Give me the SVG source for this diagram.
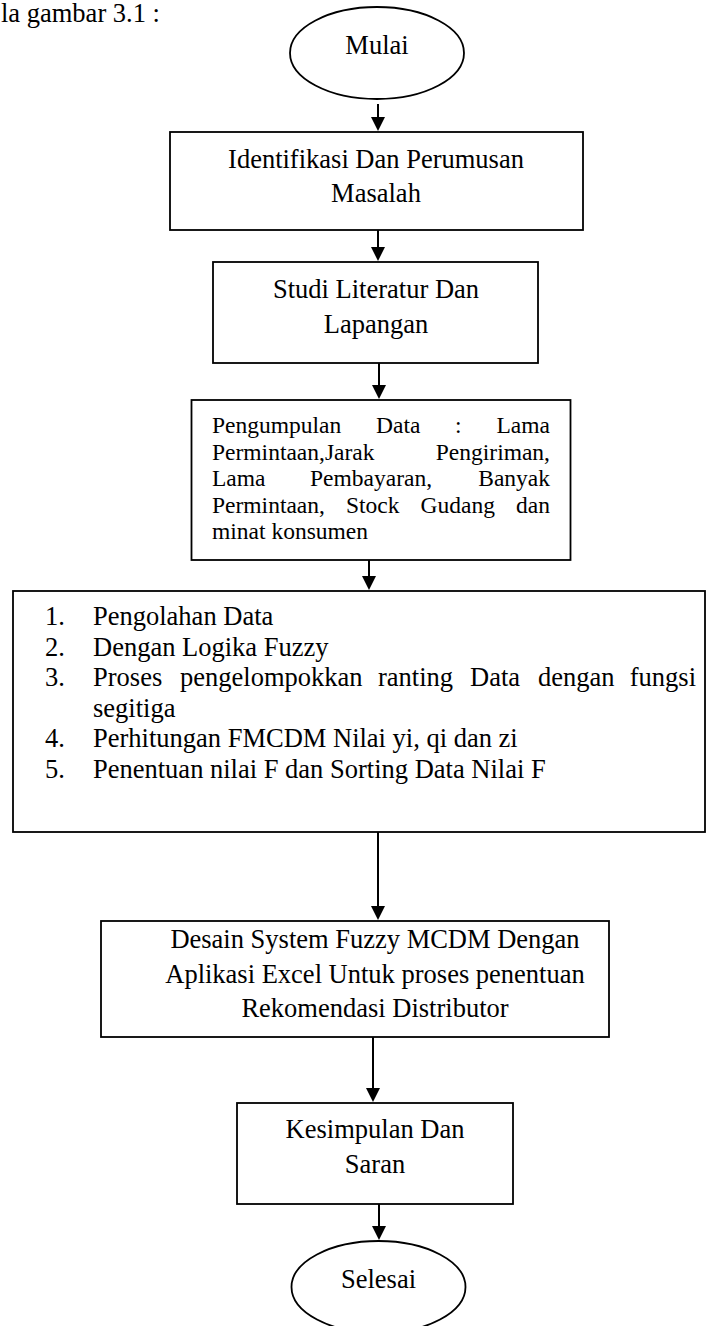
<svg xmlns="http://www.w3.org/2000/svg" width="706" height="1326" viewBox="0 0 706 1326">
<style>
  .box { fill: #fff; stroke: #000; stroke-width: 1.8; }
  .term { fill: #fff; stroke: #000; stroke-width: 1.8; }
  .t { font-family: "Liberation Serif", "Times New Roman", serif; font-size: 26.5px; fill: #000; }
  .c { text-anchor: middle; }
  .s { font-family: "Liberation Serif", "Times New Roman", serif; font-size: 23.5px; fill: #000; }
  .line { stroke: #000; stroke-width: 2; fill: none; }
  .head { fill: #000; stroke: none; }
</style>
<rect x="0" y="0" width="706" height="1326" fill="#fff"/>
<text class="t" x="1" y="22">la gambar 3.1 :</text>

<g id="mulai">
  <ellipse class="term" cx="377" cy="53" rx="87" ry="46"/>
  <text class="t c" x="377" y="54">Mulai</text>
</g>

<g id="identifikasi">
  <rect class="box" x="170" y="132" width="413" height="98"/>
  <text class="t c" x="376" y="168">Identifikasi Dan Perumusan</text>
  <text class="t c" x="376" y="202">Masalah</text>
</g>

<g id="studi">
  <rect class="box" x="213" y="262" width="325" height="101"/>
  <text class="t c" x="376" y="298">Studi Literatur Dan</text>
  <text class="t c" x="376" y="333">Lapangan</text>
</g>

<g id="pengumpulan">
  <rect class="box" x="191.5" y="400" width="379" height="160"/>
  <text class="s" y="433"><tspan x="212">Pengumpulan</tspan><tspan x="376">Data</tspan><tspan x="455">:</tspan><tspan x="550" text-anchor="end">Lama</tspan></text>
  <text class="s" y="459.5"><tspan x="212">Permintaan,Jarak</tspan><tspan x="550" text-anchor="end">Pengiriman,</tspan></text>
  <text class="s" y="486"><tspan x="212">Lama</tspan><tspan x="310">Pembayaran,</tspan><tspan x="550" text-anchor="end">Banyak</tspan></text>
  <text class="s" y="512.5"><tspan x="212">Permintaan,</tspan><tspan x="346">Stock</tspan><tspan x="420.5">Gudang</tspan><tspan x="550" text-anchor="end">dan</tspan></text>
  <text class="s" x="212" y="539">minat konsumen</text>
</g>

<g id="pengolahan">
  <rect class="box" x="13" y="591" width="692" height="241"/>
  <text class="t" x="45" y="625">1.</text>
  <text class="t" x="93" y="625">Pengolahan Data</text>
  <text class="t" x="45" y="655.5">2.</text>
  <text class="t" x="93" y="655.5">Dengan Logika Fuzzy</text>
  <text class="t" x="45" y="686">3.</text>
  <text class="t" y="686"><tspan x="93">Proses</tspan><tspan x="180">pengelompokkan</tspan><tspan x="378">ranting</tspan><tspan x="470">Data</tspan><tspan x="538">dengan</tspan><tspan x="696" text-anchor="end">fungsi</tspan></text>
  <text class="t" x="93" y="716.5">segitiga</text>
  <text class="t" x="45" y="747">4.</text>
  <text class="t" x="93" y="747">Perhitungan FMCDM Nilai yi, qi dan zi</text>
  <text class="t" x="45" y="777.5">5.</text>
  <text class="t" x="93" y="777.5">Penentuan nilai F dan Sorting Data Nilai F</text>
</g>

<g id="desain">
  <rect class="box" x="101" y="921" width="508" height="116"/>
  <text class="t c" x="375" y="948">Desain System Fuzzy MCDM Dengan</text>
  <text class="t c" x="375" y="982.5">Aplikasi Excel Untuk proses penentuan</text>
  <text class="t c" x="375" y="1017">Rekomendasi Distributor</text>
</g>

<g id="kesimpulan">
  <rect class="box" x="237" y="1103" width="276" height="101"/>
  <text class="t c" x="375" y="1138">Kesimpulan Dan</text>
  <text class="t c" x="375" y="1173">Saran</text>
</g>

<g id="selesai">
  <ellipse class="term" cx="378.5" cy="1287" rx="87" ry="46"/>
  <text class="t c" x="378.5" y="1288">Selesai</text>
</g>

<g id="connectors">
  <line class="line" x1="378" y1="104" x2="378" y2="119"/>
  <polygon class="head" points="371,117 385,117 378,131"/>
  <line class="line" x1="378" y1="230" x2="378" y2="249"/>
  <polygon class="head" points="371,247 385,247 378,261"/>
  <line class="line" x1="379" y1="363" x2="379" y2="387"/>
  <polygon class="head" points="372,385 386,385 379,399"/>
  <line class="line" x1="369" y1="560" x2="369" y2="578"/>
  <polygon class="head" points="362,576 376,576 369,590"/>
  <line class="line" x1="378" y1="832" x2="378" y2="908"/>
  <polygon class="head" points="371,906 385,906 378,920"/>
  <line class="line" x1="373" y1="1037" x2="373" y2="1090"/>
  <polygon class="head" points="366,1088 380,1088 373,1102"/>
  <line class="line" x1="379" y1="1204" x2="379" y2="1228"/>
  <polygon class="head" points="372,1226 386,1226 379,1240"/>
</g>
</svg>
